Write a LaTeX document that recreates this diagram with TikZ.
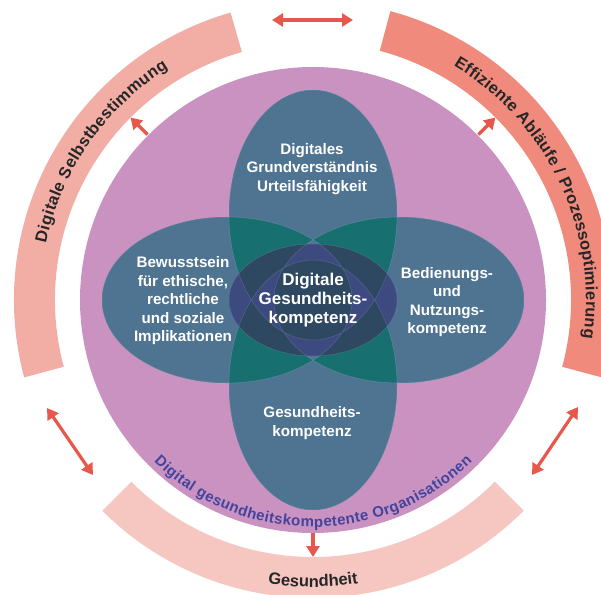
\documentclass[tikz,border=0pt]{standalone}
\usepackage{fontspec}
\setmainfont{Liberation Sans}
\usepackage{tikz}
\usetikzlibrary{arrows.meta,decorations.text}

\definecolor{bandleft}{HTML}{F2ADA5}
\definecolor{bandright}{HTML}{EF8A7D}
\definecolor{bandbottom}{HTML}{F6C6C1}
\definecolor{orgpurple}{HTML}{C992C1}
\definecolor{orgtext}{HTML}{43449C}
\definecolor{blobslate}{HTML}{4F7491}
\definecolor{blobteal}{HTML}{17706F}
\definecolor{coreviolet}{HTML}{3D4A80}
\definecolor{coredark}{HTML}{2E4862}
\definecolor{linkred}{HTML}{E8574C}

\newcommand{\blobfont}{\fontsize{15.2}{18.5}\selectfont\bfseries}
\newcommand{\corefont}{\fontsize{17}{19}\selectfont\bfseries}
\newcommand{\bandfont}{\fontsize{16.5}{18}\selectfont\bfseries}
\newcommand{\blobpath}{(0,85) ellipse [x radius=84, y radius=125]
    (0,-85) ellipse [x radius=84, y radius=125]
    (-86,0) ellipse [x radius=125, y radius=83]
    (86,0) ellipse [x radius=125, y radius=83]}

\tikzset{
    blobtext/.style={white, align=center, font=\blobfont},
    link/.style={linkred, line width=3.2pt, -{Triangle[length=11pt, width=13pt]}},
    twolink/.style={link, {Triangle[length=11pt, width=13pt]}-{Triangle[length=11pt, width=13pt]}},
    bandtext/.style={decorate, decoration={text along path, text align=fit to path, text color=black!85, text={#1}}}
}

\begin{document}
\begin{tikzpicture}[x=1pt, y=1pt]
    \useasboundingbox (-313,-294) rectangle (288,300);

    % outer bands
    \fill[bandleft] (106:258) arc[start angle=106, end angle=195, radius=258]
        -- (195:299) arc[start angle=195, end angle=106, radius=299] -- cycle;
    \fill[bandright] (-15:258) arc[start angle=-15, end angle=75, radius=258]
        -- (75:299) arc[start angle=75, end angle=-15, radius=299] -- cycle;
    \fill[bandbottom] (225:257) arc[start angle=225, end angle=315, radius=257]
        -- (315:298) arc[start angle=315, end angle=225, radius=298] -- cycle;

    \path[bandtext={|\bandfont|Digitale Selbstbestimmung}]
        (168:273) arc[start angle=168, end angle=122, radius=273];
    \path[bandtext={|\bandfont|Effiziente Abläufe / Prozessoptimierung}]
        (59:273) arc[start angle=59, end angle=-8, radius=273];
    \path[decorate, decoration={text along path, text align=center, text color=black!85,
        text={|\bandfont|Gesundheit}}]
        (255:287) arc[start angle=255, end angle=285, radius=287];

    % organisation circle
    \fill[orgpurple] (0,0) circle[radius=233];
    \path[decorate, decoration={text along path, text align=fit to path, text color=orgtext,
        text={|\fontsize{15}{17}\selectfont\bfseries|Digital gesundheitskompetente Organisationen}}]
        (225.5:227) arc[start angle=225.5, end angle=314.5, radius=227];

    % competence ellipses
    \fill[blobteal] \blobpath;
    \fill[blobslate, even odd rule] \blobpath;
    \begin{scope}
        \clip (0,0) ellipse[x radius=84, y radius=56];
        \fill[coredark] \blobpath;
        \fill[coreviolet, even odd rule] \blobpath;
    \end{scope}
    \draw[white, opacity=0.15, line width=0.5pt] \blobpath (0,0) ellipse[x radius=84, y radius=56];

    \node[blobtext] (urteil) at (-1,131) {Digitales\\Grundverständnis\\Urteilsfähigkeit};
    \node[blobtext] (ethik) at (-130,-1) {Bewusstsein\\für ethische,\\rechtliche\\und soziale\\Implikationen};
    \node[blobtext] (nutzung) at (134,-2) {Bedienungs-\\und\\Nutzungs-\\kompetenz};
    \node[blobtext] (gesund) at (-1,-123) {Gesundheits-\\kompetenz};
    \node[blobtext, font=\corefont] (core) at (0,0) {Digitale\\Gesundheits-\\kompetenz};

    % arrows
    \coordinate (tl-from) at (135:234);
    \coordinate (tl-to) at (135:258);
    \coordinate (tr-from) at (45:234);
    \coordinate (tr-to) at (45:258);
    \coordinate (b-from) at (270:233);
    \coordinate (b-to) at (270:257);
    \coordinate (top-l) at (-41,280);
    \coordinate (top-r) at (40,280);
    \coordinate (left-a) at (-266,-108);
    \coordinate (left-b) at (-220,-175);
    \coordinate (right-a) at (265,-107);
    \coordinate (right-b) at (219,-175);

    \draw[link] (tl-from) -- (tl-to);
    \draw[link] (tr-from) -- (tr-to);
    \draw[link] (b-from) -- (b-to);
    \draw[twolink] (top-l) -- (top-r);
    \draw[twolink] (left-a) -- (left-b);
    \draw[twolink] (right-a) -- (right-b);
\end{tikzpicture}
\end{document}
